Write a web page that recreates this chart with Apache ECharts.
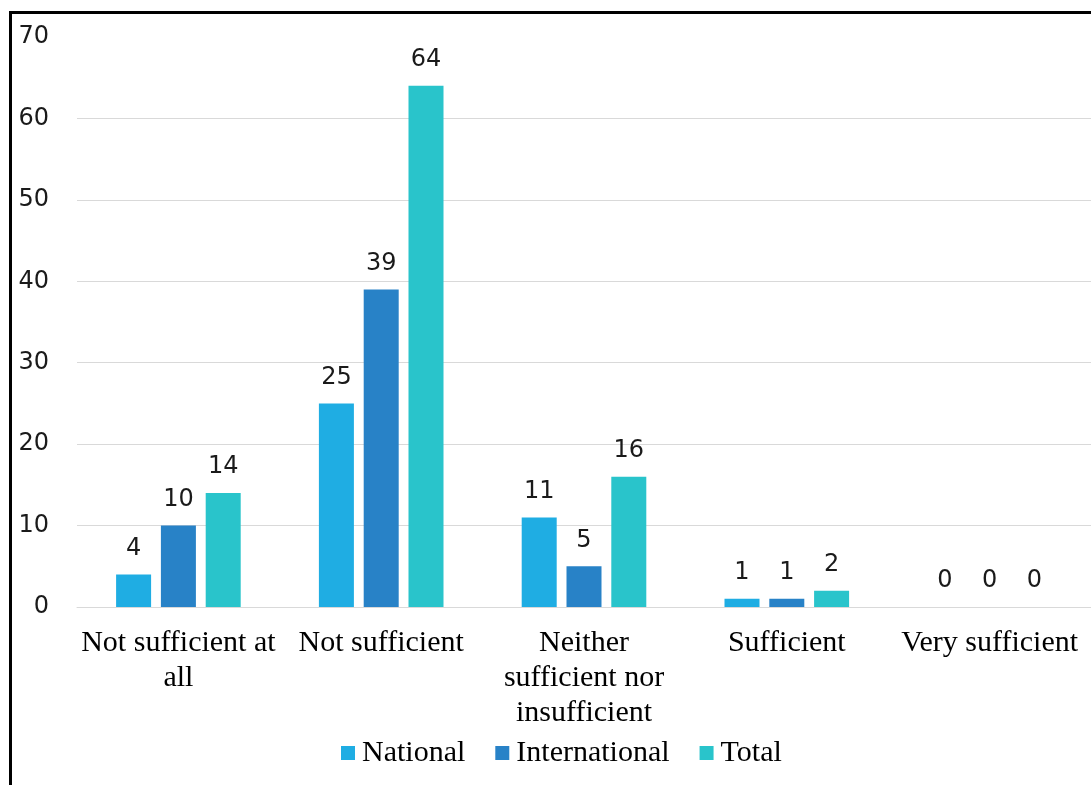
<!DOCTYPE html>
<html>
<head>
<meta charset="utf-8">
<script src="https://cdn.jsdelivr.net/npm/echarts@6/dist/echarts.min.js"></script>
<style>
  body { margin: 0; background: #fff; }
  #chartDiv { position: absolute; left: 0; top: 0; width: 1091px; height: 785px; }
  #frame { position: absolute; left: 9px; top: 11px; width: 1100px; height: 800px;
           border-top: 3px solid #000; border-left: 3px solid #000; pointer-events: none; }
</style>
</head>
<body>
<div id="chartDiv"></div>
<div id="frame"></div>
<script>
// chart data
const categories = ['Not sufficient at all', 'Not sufficient', 'Neither sufficient nor insufficient', 'Sufficient', 'Very sufficient'];
const tickLabels = ['Not sufficient at\nall', 'Not sufficient', 'Neither\nsufficient nor\ninsufficient', 'Sufficient', 'Very sufficient'];
const national = [4, 25, 11, 1, 0];
const international = [10, 39, 5, 1, 0];
const total = [14, 64, 16, 2, 0];

const colors = ['#1fade3', '#2882c7', '#29c4cb'];

let chartDom = document.getElementById('chartDiv');
let myChart = echarts.init(chartDom);

function makeSeries(name, values, color) {
    return {
        name: name,
        type: 'bar',
        data: values,
        barWidth: 35,
        barGap: '28%',
        itemStyle: { color: color },
        label: {
            show: true,
            position: 'top',
            distance: 14,
            fontFamily: 'DejaVu Sans',
            fontSize: 24,
            color: '#1a1a1a'
        }
    };
}

let option = {
    animation: false,
    backgroundColor: '#fff',
    grid: { left: 77, right: -6, top: 37, bottom: 178, containLabel: false },
    legend: {
        top: 733,
        left: 336,
        itemWidth: 14,
        itemHeight: 14,
        itemGap: 30,
        icon: 'rect',
        textStyle: { fontFamily: 'Liberation Serif', fontSize: 30, color: '#000', padding: [0, 0, 0, 2] },
        data: ['National', 'International', 'Total']
    },
    xAxis: {
        type: 'category',
        data: categories,
        axisTick: { show: false },
        axisLine: { lineStyle: { color: '#d9d9d9', width: 1 } },
        axisLabel: {
            interval: 0,
            margin: 19,
            fontFamily: 'Liberation Serif',
            fontSize: 30,
            lineHeight: 35,
            color: '#000',
            formatter: function (v, i) { return tickLabels[i]; }
        }
    },
    yAxis: {
        type: 'value',
        min: 0,
        max: 70,
        interval: 10,
        axisLine: { show: false },
        axisTick: { show: false },
        axisLabel: {
            margin: 28,
            fontFamily: 'DejaVu Sans',
            fontSize: 24,
            color: '#1a1a1a'
        },
        splitLine: {
            lineStyle: {
                color: ['#d9d9d9', '#d9d9d9', '#d9d9d9', '#d9d9d9', '#d9d9d9', '#d9d9d9', '#d9d9d9', 'transparent'],
                width: 1
            }
        }
    },
    series: [
        makeSeries('National', national, colors[0]),
        makeSeries('International', international, colors[1]),
        makeSeries('Total', total, colors[2])
    ]
};

option && myChart.setOption(option);
</script>
</body>
</html>
